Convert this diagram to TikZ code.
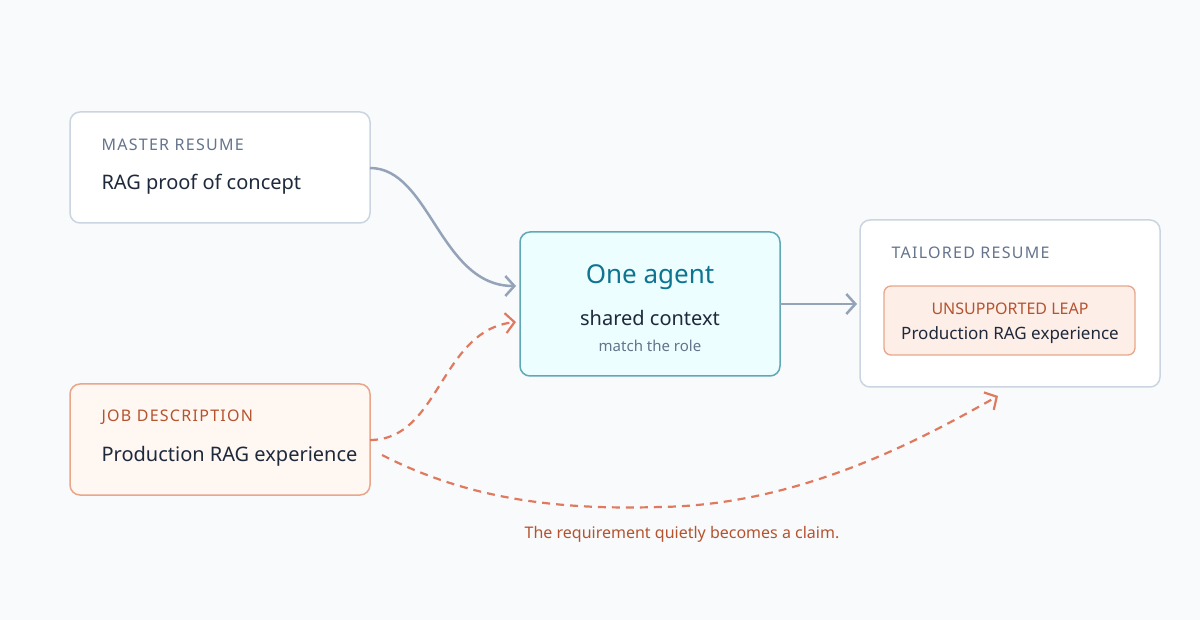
\documentclass[tikz,border=0pt]{standalone}
\usepackage{fontspec}
\setmainfont{Noto Sans}
\usetikzlibrary{arrows.meta}
\definecolor{bgc}{HTML}{F8FAFC}
\definecolor{grayline}{HTML}{CBD5E1}
\definecolor{slate}{HTML}{64748B}
\definecolor{ink}{HTML}{1E293B}
\definecolor{wire}{HTML}{94A3B8}
\definecolor{rust}{HTML}{B5532F}
\definecolor{coral}{HTML}{E07A5F}
\definecolor{peach}{HTML}{E8A68A}
\definecolor{jobfill}{HTML}{FFF7F2}
\definecolor{leapfill}{HTML}{FDEEE8}
\definecolor{teal}{HTML}{0E7490}
\definecolor{tealline}{HTML}{5FA8B5}
\definecolor{agentfill}{HTML}{ECFEFF}
\tikzset{
  card/.style={draw=grayline, line width=1.5pt, rounded corners=10pt, fill=white},
  tag/.style={anchor=west, font=\fontsize{16}{18}\selectfont\addfontfeature{LetterSpace=8}, text=slate},
  body/.style={anchor=west, font=\fontsize{20}{24}\selectfont, text=ink},
  flow/.style={draw=wire, line width=2.5pt, -{Straight Barb[length=9pt,width=20pt]}},
  leap/.style={draw=coral, line width=2.2pt, dash pattern=on 8pt off 6pt, -{Straight Barb[length=9pt,width=20pt]}}
}
\begin{document}
\begin{tikzpicture}[x=1pt, y=-1pt]
  \fill[bgc] (0,0) rectangle (1200,620);
  \useasboundingbox (0,0) rectangle (1200,620);

  % Master resume
  \draw[card] (70,112) rectangle (370,223);
  \node[tag] (mtag) at (98,145) {MASTER RESUME};
  \node[body] (mtxt) at (98,184) {RAG proof of concept};

  % Job description
  \draw[card, draw=peach, fill=jobfill] (70,384) rectangle (370,495);
  \node[tag, text=rust] (jtag) at (98,417) {JOB DESCRIPTION};
  \node[body] (jtxt) at (98,456) {Production RAG experience};

  % Agent
  \draw[card, draw=tealline, fill=agentfill] (520,232) rectangle (780,376);
  \node[font=\fontsize{26}{30}\selectfont, text=teal] (atitle) at (650,277) {One agent};
  \node[body, anchor=center] (actx) at (650,318) {shared context};
  \node[font=\fontsize{15}{18}\selectfont, text=slate] (arole) at (650,346) {match the role};

  % Tailored resume
  \draw[card] (860,220) rectangle (1160,387);
  \node[tag] (ttag) at (888,253) {TAILORED RESUME};
  \draw[card, draw=peach, fill=leapfill, line width=1.3pt, rounded corners=7pt] (884,286) rectangle (1135,355);
  \node[font=\fontsize{16}{18}\selectfont, text=rust] (ltag) at (1010,309) {UNSUPPORTED LEAP};
  \node[font=\fontsize{17}{20}\selectfont, text=ink] (ltxt) at (1010,335) {Production RAG experience};

  \coordinate (mout) at (370,168);
  \coordinate (ain1) at (516,286);
  \coordinate (ain2) at (516,322);
  \coordinate (aout) at (780,304);
  \coordinate (tin) at (857,304);
  \coordinate (jout1) at (370,440);
  \coordinate (jout2) at (382,455);
  \coordinate (lin) at (998,396);

  % Connectors
  \draw[flow] (mout) .. controls (430,168) and (440,286) .. (ain1);
  \draw[flow] (aout) -- (tin);
  \draw[leap] (jout1) .. controls (440,440) and (440,330) .. (ain2);
  \draw[leap] (jout2) .. controls (470,500) and (560,510) .. (660,507) .. controls (800,505) and (920,440) .. (lin);

  \node[font=\fontsize{16}{18}\selectfont, text=rust] (note) at (682,534) {The requirement quietly becomes a claim.};
\end{tikzpicture}
\end{document}
